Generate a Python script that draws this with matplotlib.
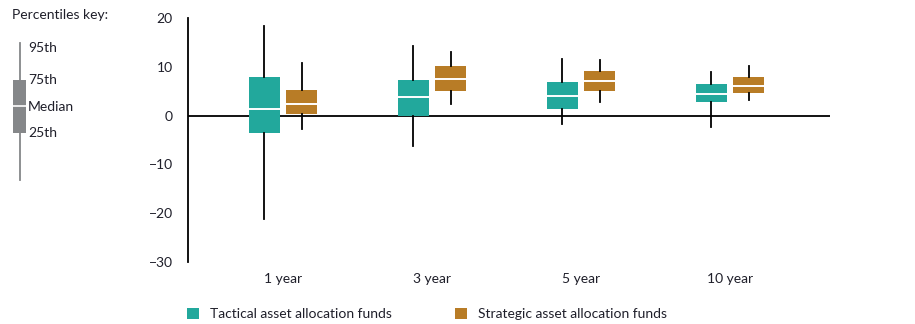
import numpy as np
import matplotlib
matplotlib.use("Agg")
import matplotlib.pyplot as plt
from matplotlib.patches import Patch, Rectangle
from matplotlib.lines import Line2D

plt.rcParams['font.family'] = ['Lato', 'DejaVu Sans']
plt.rcParams['font.size'] = 10

# percentile returns (%) for each horizon
periods = ['1 year', '3 year', '5 year', '10 year']
series = ['Tactical asset allocation funds', 'Strategic asset allocation funds']

tactical_p5 = [-21.2, -6.2, -1.7, -2.3]
tactical_p25 = [-3.6, -0.1, 1.3, 2.7]
tactical_med = [1.4, 3.8, 4.1, 4.5]
tactical_p75 = [8.0, 7.3, 6.9, 6.4]
tactical_p95 = [18.4, 14.3, 11.5, 9.0]

strategic_p5 = [-2.8, 2.3, 2.8, 3.2]
strategic_p25 = [0.3, 5.0, 5.0, 4.6]
strategic_med = [2.4, 7.6, 7.1, 6.0]
strategic_p75 = [5.2, 10.1, 9.2, 8.0]
strategic_p95 = [10.7, 13.1, 11.3, 10.1]

teal = '#22a89c'
gold = '#b87c26'
key_grey = '#858789'
text_col = '#1f1f2a'

fig = plt.figure(figsize=(9.15, 3.24), dpi=100)
ax = fig.add_axes([188 / 915, 1 - 262 / 324, 642 / 915, 244 / 324])


def stats(p5, p25, med, p75, p95):
    return [dict(whislo=a, q1=b, med=c, q3=d, whishi=e)
            for a, b, c, d, e in zip(p5, p25, med, p75, p95)]


x = np.arange(len(periods))
off = 0.126
width = 0.208
for data, color, shift in [
        (stats(tactical_p5, tactical_p25, tactical_med, tactical_p75, tactical_p95), teal, -off),
        (stats(strategic_p5, strategic_p25, strategic_med, strategic_p75, strategic_p95), gold, off)]:
    ax.bxp(data, positions=x + shift, widths=width, patch_artist=True,
           showcaps=False, showfliers=False, manage_ticks=False,
           boxprops=dict(facecolor=color, edgecolor='none'),
           whiskerprops=dict(color='black', linewidth=1.3),
           medianprops=dict(color='white', linewidth=1.4),
           zorder=3)

ax.axhline(0, color='black', linewidth=1.3, zorder=2)
ax.set_xlim(-0.638, 3.671)
ax.set_ylim(-30, 20)
ax.set_yticks([-30, -20, -10, 0, 10, 20])
ax.set_xticks(x)
ax.set_xticklabels(periods)
ax.tick_params(length=0, labelsize=10, labelcolor=text_col)
ax.tick_params(axis='y', pad=11)
ax.tick_params(axis='x', pad=8)
for side in ['top', 'right', 'bottom']:
    ax.spines[side].set_visible(False)
ax.spines['left'].set_linewidth(1.3)

# percentiles key drawn in pixel space on the left
key = fig.add_axes([0, 0, 1, 1], zorder=-1)
key.set_xlim(0, 915)
key.set_ylim(324, 0)
key.axis('off')
key.text(12, 15, 'Percentiles key:', fontsize=10, color=text_col, va='center')
key.add_line(Line2D([20, 20], [43, 180], color=key_grey, linewidth=1.3))
key.add_patch(Rectangle((13, 80), 13, 53, facecolor=key_grey, edgecolor='none'))
key.add_line(Line2D([13, 26], [106, 106], color='white', linewidth=1.2))
for label, ypos in [('95th', 48), ('75th', 80), ('Median', 107), ('25th', 133)]:
    key.text(28, ypos, label, fontsize=10, color=text_col, va='center')

handles = [Patch(facecolor=teal, edgecolor='none'),
           Patch(facecolor=gold, edgecolor='none')]
fig.legend(handles, series, loc='center left', ncol=2, frameon=False,
           bbox_to_anchor=(187 / 915, 1 - 314 / 324), borderpad=0,
           borderaxespad=0, handlelength=0.87, handleheight=0.87,
           handletextpad=0.8, columnspacing=4.5, fontsize=10,
           labelcolor=text_col)

fig.savefig('out.png', dpi=100)
